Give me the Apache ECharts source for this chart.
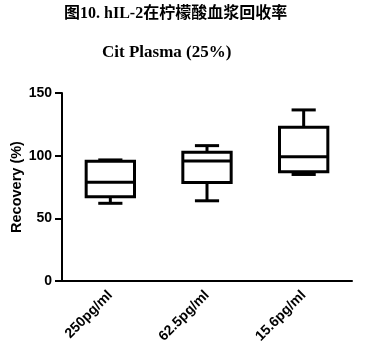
<!DOCTYPE html>
<html><head><meta charset="utf-8">
<script src="https://cdn.jsdelivr.net/npm/echarts@6/dist/echarts.min.js"></script>
<style>html,body{margin:0;padding:0;background:#fff}#c{width:371px;height:350px}</style>
</head><body><div id="c"></div>
<script>
const categories = ['250pg/ml', '62.5pg/ml', '15.6pg/ml'];
const minVals    = [62.0, 64.0, 85.0];
const q1Vals     = [67.3, 78.5, 87.2];
const medianVals = [78.8, 95.8, 99.2];
const q3Vals     = [95.5, 102.7, 122.7];
const maxVals    = [96.6, 108.0, 136.5];
const yTicks = [0, 50, 100, 150];
const titleText = '图10. hIL-2在柠檬酸血浆回收率';
const subtitleText = 'Cit Plasma (25%)';
const yName = 'Recovery (%)';

const data = categories.map((c, i) => [i, minVals[i], q1Vals[i], medianVals[i], q3Vals[i], maxVals[i]]);

function renderItem(params, api) {
  const x = api.value(0);
  const pMin = api.coord([x, api.value(1)]);
  const pQ1 = api.coord([x, api.value(2)]);
  const pMed = api.coord([x, api.value(3)]);
  const pQ3 = api.coord([x, api.value(4)]);
  const pMax = api.coord([x, api.value(5)]);
  const bw = api.size([1, 0])[0] * 0.5;
  const cw = bw * 0.5;
  const cx = pMed[0];
  const st = {stroke: '#000', lineWidth: 3, fill: null};
  const line = (x1, y1, x2, y2) => ({type: 'line', shape: {x1, y1, x2, y2}, style: st});
  return {
    type: 'group',
    children: [
      {type: 'rect', shape: {x: cx - bw / 2, y: pQ3[1], width: bw, height: pQ1[1] - pQ3[1]}, style: st},
      line(cx - bw / 2, pMed[1], cx + bw / 2, pMed[1]),
      line(cx, pQ3[1], cx, pMax[1]),
      line(cx, pQ1[1], cx, pMin[1]),
      line(cx - cw / 2, pMax[1], cx + cw / 2, pMax[1]),
      line(cx - cw / 2, pMin[1], cx + cw / 2, pMin[1])
    ]
  };
}

const chart = echarts.init(document.getElementById('c'), null, {renderer: 'canvas'});
chart.setOption({
  backgroundColor: '#fff',
  animation: false,
  graphic: [
    {type: 'text', left: 180 - 116, top: 6, style: {text: titleText, font: 'bold 16px "Liberation Serif", "Noto Sans CJK SC", serif', fill: '#000'}},
    {type: 'text', left: 102, top: 44, style: {text: subtitleText, font: 'bold 17px "Liberation Serif", serif', fill: '#000'}}
  ],
  grid: {left: 62, right: 19, top: 93, bottom: 69, containLabel: false, outerBoundsMode: 'none'},
  xAxis: {
    type: 'category',
    data: categories,
    boundaryGap: true,
    axisLine: {lineStyle: {color: '#000', width: 2}},
    axisTick: {alignWithLabel: true, length: 5, lineStyle: {color: '#000', width: 2}},
    axisLabel: {rotate: 45, color: '#000', fontWeight: 'bold', fontSize: 14, fontFamily: 'Liberation Sans', margin: 12, interval: 0}
  },
  yAxis: {
    type: 'value',
    min: 0, max: 150, interval: 50,
    name: yName,
    nameLocation: 'middle',
    nameGap: 38,
    nameMoveOverlap: false,
    nameTextStyle: {color: '#000', fontWeight: 'bold', fontSize: 14.5, fontFamily: 'Liberation Sans'},
    axisLine: {show: true, lineStyle: {color: '#000', width: 2}},
    axisTick: {show: true, length: 7, lineStyle: {color: '#000', width: 2}},
    splitLine: {show: false},
    axisLabel: {color: '#000', fontWeight: 'bold', fontSize: 14, fontFamily: 'Liberation Sans', margin: 10,
      formatter: v => yTicks.includes(v) ? String(v) : ''}
  },
  series: [{
    type: 'custom',
    renderItem: renderItem,
    encode: {x: 0, y: [1, 2, 3, 4, 5]},
    data: data
  }]
});
</script></body></html>
